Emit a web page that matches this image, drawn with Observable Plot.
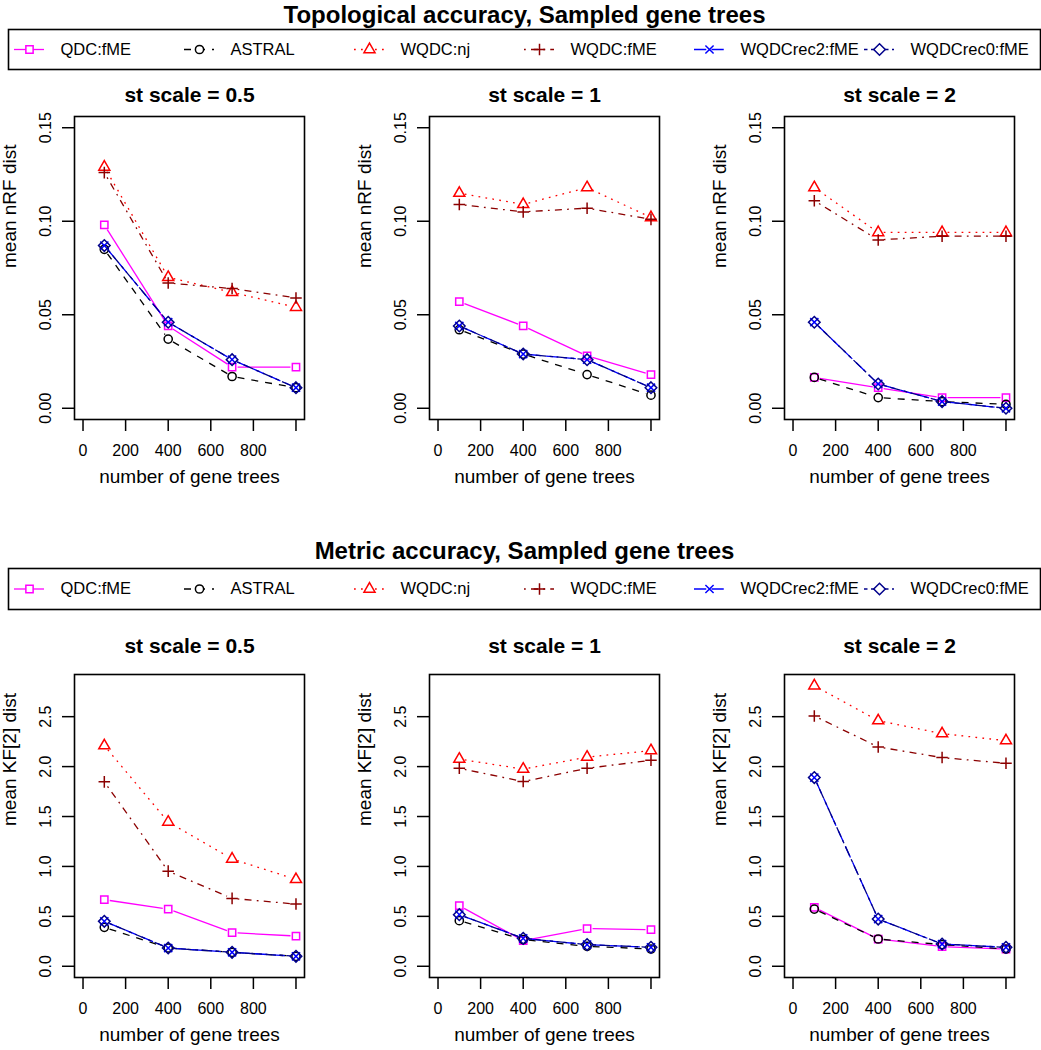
<!DOCTYPE html>
<html>
<head>
<meta charset="utf-8">
<script src="https://cdn.jsdelivr.net/npm/d3@7"></script>
<script src="https://cdn.jsdelivr.net/npm/@observablehq/plot@0.6"></script>
<style>
  html, body { margin: 0; padding: 0; background: #fff; }
  #fig { position: relative; width: 1041px; height: 1050px; overflow: hidden; background: #fff;
         font-family: "Liberation Sans", Arial, Helvetica, sans-serif; }
  .slot { position: absolute; }
</style>
</head>
<body>
<div id="fig"></div>
<script>
// ---------------- data ----------------
const nTrees = [100, 400, 700, 1000];
const methods = ["QDC:fME", "ASTRAL", "WQDC:nj", "WQDC:fME", "WQDCrec2:fME", "WQDCrec0:fME"];
const stScales = ["0.5", "1", "2"];

// mean nRF distance; rows follow `methods`, columns follow `nTrees`
const nrfScale05 = [
  [0.098, 0.044, 0.022, 0.022],
  [0.085, 0.037, 0.017, 0.011],
  [0.129, 0.070, 0.062, 0.054],
  [0.126, 0.067, 0.064, 0.059],
  [0.087, 0.046, 0.026, 0.011],
  [0.087, 0.046, 0.026, 0.011]
];
const nrfScale1 = [
  [0.057, 0.044, 0.028, 0.018],
  [0.042, 0.029, 0.018, 0.007],
  [0.115, 0.109, 0.118, 0.102],
  [0.109, 0.105, 0.107, 0.101],
  [0.044, 0.029, 0.026, 0.011],
  [0.044, 0.029, 0.026, 0.011]
];
const nrfScale2 = [
  [0.0165, 0.011, 0.0057, 0.0057],
  [0.0165, 0.0057, 0.0036, 0.0021],
  [0.118, 0.094, 0.094, 0.094],
  [0.111, 0.090, 0.092, 0.092],
  [0.046, 0.013, 0.0036, 0.000],
  [0.046, 0.013, 0.0036, 0.000]
];

// mean KF[2] distance
const kfScale05 = [
  [0.667, 0.573, 0.337, 0.303],
  [0.390, 0.183, 0.140, 0.100],
  [2.210, 1.445, 1.075, 0.870],
  [1.847, 0.953, 0.680, 0.623],
  [0.450, 0.183, 0.140, 0.100],
  [0.450, 0.183, 0.140, 0.100]
];
const kfScale1 = [
  [0.607, 0.257, 0.377, 0.367],
  [0.457, 0.267, 0.200, 0.173],
  [2.075, 1.975, 2.095, 2.160],
  [1.983, 1.850, 1.983, 2.063],
  [0.517, 0.280, 0.217, 0.190],
  [0.517, 0.280, 0.217, 0.190]
];
const kfScale2 = [
  [0.590, 0.273, 0.197, 0.173],
  [0.573, 0.273, 0.217, 0.173],
  [2.810, 2.460, 2.330, 2.260],
  [2.507, 2.197, 2.090, 2.033],
  [1.890, 0.473, 0.223, 0.190],
  [1.890, 0.473, 0.223, 0.190]
];

// ticks
const xTickMarks = [0, 200, 400, 600, 800, 1000];
const xTickLabels = [0, 200, 400, 600, 800];
const nrfTicks = [0, 0.05, 0.10, 0.15];
const kfTicks = [0, 0.5, 1.0, 1.5, 2.0, 2.5];

// ---------------- styles ----------------
const seriesColors = ["#FF00FF", "#000000", "#FF0000", "#8B0000", "#0000FF", "#00008B"];
const seriesSymbols = ["square", "circle", "triangle", "plus", "times", "diamond2"];
const seriesDash = [undefined, "7,7", "1.75,5.25", "1.75,5.25,7,5.25", "12.25,5.25", "3.5,3.5,10.5,3.5"];
const symbolR = [4.1, 4.1, 4.1, 3.8, 3.8, 5.2];
const FONT = '"Liberation Sans", Arial, Helvetica, sans-serif';

const fig = document.getElementById("fig");
function place(node, left, top) {
  const slot = document.createElement("div");
  slot.className = "slot";
  slot.style.left = left + "px";
  slot.style.top = top + "px";
  slot.appendChild(node);
  fig.appendChild(slot);
}
function padLim([a, b]) { const d = (b - a) * 0.04; return [a - d, b + d]; }

function panel({values, yLim, yTicks, yFmt, yLabel, title, titleGap, left, top, marginBottom}) {
  const marginTop = 60, marginLeft = 74, marginRight = 20, boxW = 230, boxH = 303;
  const marks = [
    Plot.frame({stroke: "black", strokeWidth: 1.6}),
    Plot.axisX({ticks: xTickMarks, tickSize: 12, fill: "none", label: null, strokeWidth: 1.5}),
    Plot.axisX({ticks: xTickLabels, tickSize: 0, tickPadding: 25, label: null, fontSize: 16, tickFormat: d => String(d)}),
    Plot.axisY({ticks: yTicks, tickSize: 12, fill: "none", label: null, strokeWidth: 1.5}),
    Plot.axisY({ticks: yTicks, tickSize: 0, tickPadding: 24, tickRotate: -90, label: null, fontSize: 16, tickFormat: yFmt}),
    Plot.text(["number of gene trees"], {frameAnchor: "bottom", dy: 63, text: d => d, fontSize: 19}),
    Plot.text([yLabel], {frameAnchor: "left", dx: -65, rotate: -90, text: d => d, fontSize: 19}),
    Plot.text([title], {frameAnchor: "top", dy: -titleGap, lineAnchor: "bottom", text: d => d, fontSize: 21, fontWeight: "bold"})
  ];
  values.forEach((row, i) => {
    const pts = row.map((v, j) => ({n: nTrees[j], v}));
    const segs = pts.slice(1).map((p, j) => ({n1: pts[j].n, v1: pts[j].v, n2: p.n, v2: p.v}));
    marks.push(Plot.arrow(segs, {
      x1: "n1", y1: "v1", x2: "n2", y2: "v2",
      stroke: seriesColors[i], strokeWidth: 1.3, strokeDasharray: seriesDash[i],
      headLength: 0, insetStart: 5.5, insetEnd: 5.5, strokeLinecap: "butt"
    }));
    marks.push(Plot.dot(pts, {
      x: "n", y: "v", symbol: seriesSymbols[i], r: symbolR[i],
      stroke: seriesColors[i], fill: "none", strokeWidth: 1.5
    }));
  });
  const p = Plot.plot({
    width: marginLeft + boxW + marginRight,
    height: marginTop + boxH + marginBottom,
    marginTop, marginLeft, marginRight, marginBottom,
    x: {domain: padLim([0, 1000]), axis: null},
    y: {domain: padLim(yLim), axis: null},
    style: {fontFamily: FONT, fontSize: "16px", color: "black", background: "transparent", overflow: "visible", maxWidth: "none"},
    marks
  });
  place(p, left - marginLeft, top - marginTop);
}

function legend({title, titleGap, top, marginTop, boxH}) {
  const marks = [
    Plot.frame({stroke: "black", strokeWidth: 1.6}),
    Plot.text([title], {frameAnchor: "top", dy: -titleGap, lineAnchor: "bottom", text: d => d, fontSize: 24, fontWeight: "bold"})
  ];
  methods.forEach((m, i) => {
    const one = [m];
    marks.push(Plot.tickY(one, {x: d => d, y: d => 0.5, stroke: seriesColors[i], strokeWidth: 1.3, strokeDasharray: seriesDash[i]}));
    marks.push(Plot.dot(one, {x: d => d, y: d => 0.5, symbol: seriesSymbols[i], r: symbolR[i], stroke: seriesColors[i], fill: "white", strokeWidth: 1.5}));
    marks.push(Plot.text(one, {x: d => d, y: d => 0.5, text: d => d, dx: 31, textAnchor: "start", fontSize: 16.5}));
  });
  const p = Plot.plot({
    width: 1041, height: marginTop + boxH + 1,
    marginTop, marginBottom: 1, marginLeft: 8, marginRight: 1,
    x: {type: "band", domain: methods, range: [13, 895], paddingInner: 0.824, paddingOuter: 0, align: 0.5, axis: null},
    y: {domain: [0, 1], axis: null},
    style: {fontFamily: FONT, fontSize: "16px", color: "black", background: "transparent", overflow: "visible", maxWidth: "none"},
    marks
  });
  place(p, 0, top - marginTop);
}

// ---------------- layout ----------------
const boxLefts = [74, 429, 784];
const nrfData = [nrfScale05, nrfScale1, nrfScale2];
const kfData = [kfScale05, kfScale1, kfScale2];
const kfMax = d3.max(kfData.flat(2));

legend({title: "Topological accuracy, Sampled gene trees", titleGap: 7, top: 29, marginTop: 29, boxH: 40});
legend({title: "Metric accuracy, Sampled gene trees", titleGap: 10, top: 568, marginTop: 28, boxH: 41});

stScales.forEach((s, k) => {
  panel({values: nrfData[k], yLim: [0, 0.15], yTicks: nrfTicks, yFmt: d3.format(".2f"),
         yLabel: "mean nRF dist", title: "st scale = " + s, titleGap: 15,
         left: boxLefts[k], top: 116, marginBottom: 80});
  panel({values: kfData[k], yLim: [0, kfMax], yTicks: kfTicks, yFmt: d3.format(".1f"),
         yLabel: "mean KF[2] dist", title: "st scale = " + s, titleGap: 22,
         left: boxLefts[k], top: 674, marginBottom: 73});
});
</script>
</body>
</html>
